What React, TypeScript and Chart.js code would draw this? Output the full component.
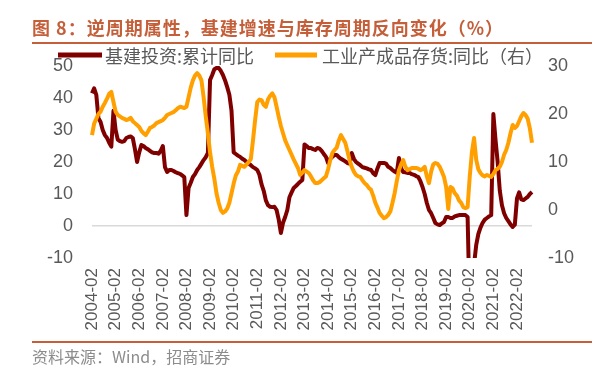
import React, { useEffect, useRef } from 'react';
import { Chart, registerables } from 'chart.js';

Chart.register(...registerables);

// ---- data -------------------------------------------------------------
const years = [2004, 2005, 2006, 2007, 2008, 2009, 2010, 2011, 2012, 2013, 2014, 2015, 2016, 2017, 2018, 2019, 2020, 2021, 2022];
const monthsOfYear = ['02', '03', '04', '05', '06', '07', '08', '09', '10', '11', '12'];
const lastMonth2022 = 9;

const categories: string[] = [];
years.forEach((y) => {
  monthsOfYear.forEach((m) => {
    if (y === 2022 && Number(m) > lastMonth2022) return;
    categories.push(`${y}-${m}`);
  });
});

// 基建投资:累计同比 (left axis)
const infraYoY = [
  41.5, 43, 41, 33.7, 32.5, 30, 28.4, 27.5, 26, 24.8, 36,
  30, 27, 26.5, 26.3, 26.5, 27.5, 27.8, 28, 27.5, 24, 20,
  23, 25.3, 25, 24.4, 24, 23.5, 23, 22.8, 22.8, 22.6, 23.5,
  25, 18.4, 16.9, 17.5, 17.5, 17.2, 16.8, 16.5, 16.3, 15.8, 15.3,
  3.4, 11.9, 13.5, 15.3, 16.2, 17.5, 18.4, 19.5, 20.6, 21.5, 22.8,
  45.6, 47.2, 49, 49.4, 49.4, 48.5, 47.2, 45.5, 43.4, 41, 36,
  23, 22.5, 22, 21.6, 21, 20.6, 20, 19.5, 19, 18.4, 18,
  17.5, 16, 13, 11, 8, 6.5, 6, 5.9, 6, 5, 2,
  -2.2, 1, 2.8, 5, 9, 10.5, 11.9, 12.5, 13.2, 13.8, 14.4,
  25.5, 25, 24.4, 24.4, 24, 23.75, 24.4, 24.2, 23.5, 22.5, 21.6,
  19.7, 21, 21.6, 22.2, 22.2, 21.5, 21, 20.6, 20.2, 19.7, 19.5,
  22.8, 21, 20, 19.5, 19, 18.4, 18.2, 18, 17.7, 17.5, 16.5,
  15.9, 18, 19.7, 19.7, 19.7, 19.5, 18.5, 18.1, 17.5, 17, 16.6,
  21.25, 18, 16.9, 16.8, 16.6, 16.6, 16.2, 16, 15.6, 15.3, 14,
  12.2, 10, 7.2, 5, 4, 2.5, 0.9, 0.5, 0.3, 0.8, 1.25,
  2.8, 2.8, 2.5, 2.5, 3, 3.2, 3.4, 3.4, 3.4, 3.4, 2.8,
  -26.9, -19.7, -12, -6, -2.5, -0.5, 1, 2, 2.5, 3, 3.4,
  35, 27, 20, 11, 6.5, 4, 2.5, 1.5, 0.5, -0.3, 0.4,
  8.6, 10.5, 8.3, 8.1, 8.6, 9.1, 10, 10.6,
];

// 工业产成品存货:同比 (right axis)
const inventoryYoY = [
  15.6, 18, 19, 20, 20.5, 21.5, 22.3, 23.2, 24.2, 24.6, 22.5,
  20.5, 19.8, 19.5, 19.2, 19, 18.75, 18.9, 19.2, 18.5, 18.1, 17.7,
  17.3, 16.5, 16, 15.6, 16.3, 17.1, 17.3, 17.6, 18.1, 18.3, 18.5,
  18.75, 19.2, 19.8, 20, 20.2, 20.4, 20.8, 21.2, 21.5, 21.4, 21.25,
  21.5, 23.5, 25.5, 27, 28, 28.5, 28, 27, 23.5, 19.5, 16,
  12, 9, 6.5, 3.5, 1.5, 0, -0.6, -0.3, 0.3, 1.5, 3.5,
  5.5, 7.2, 8, 9.4, 9.2, 9, 9.5, 10, 10.6, 14.5, 18.75,
  22.5, 23, 22.9, 21.9, 21.5, 23, 23.8, 24.3, 23.5, 21.5, 19.4,
  17.5, 16, 14.5, 13.5, 12.5, 11.5, 10.5, 9.6, 8.7, 7.3, 7.8,
  8.3, 8, 7.7, 7, 6.2, 5.6, 5.6, 5.8, 6.2, 6.6, 7,
  8.5, 10.4, 11.9, 12.5, 13, 14.5, 15.6, 14.8, 14, 12.3, 10.4,
  9, 8, 7.3, 7, 6.9, 6.2, 5.6, 5.2, 4.6, 4.2, 3,
  1.5, 0.5, -0.6, -1.2, -1.7, -1.5, -1, -0.3, 1.5, 3.5, 6,
  8.3, 9.5, 10.4, 9, 8.3, 8.5, 8.75, 8.75, 8.75, 8.6, 8.3,
  8.5, 9, 7, 5.6, 8, 9.5, 9.8, 9.6, 9, 8, 6.9,
  4.8, 0.2, 4.8, 4.5, 3.5, 3, 2, 1.5, 0.6, 0.4, 0.6,
  7, 12, 15, 10.5, 8.5, 7.7, 7.2, 7, 7.3, 7.1, 6.9,
  7.5, 8.3, 8.6, 9, 10, 11.5, 12.5, 14, 16, 17.7, 17.1,
  17.5, 18.5, 19.5, 20.2, 19.8, 19, 17, 14,
];

const leftAxisRange = [-10, 50];
const rightAxisRange = [-10, 30];
const axisStep = 10;

const seriesNames = ['基建投资:累计同比', '工业产成品存货:同比（右）'];
const titleText = '图 8：逆周期属性，基建增速与库存周期反向变化（%）';
const sourceText = '资料来源：Wind，招商证券';

// ---- styles -----------------------------------------------------------
const DARK_RED = '#800000';
const ORANGE = '#ffa000';
const ACCENT = '#c45f3a';
const AXIS_TEXT = '#595959';
const CJK = '"Noto Sans CJK SC", "Noto Sans", sans-serif';
const LATIN = '"Liberation Sans", Arial, sans-serif';

const decorPlugin = {
  id: 'decor',
  afterDraw(chart: any) {
    const ctx = chart.ctx as any;
    ctx.save();
    // title
    ctx.fillStyle = ACCENT;
    ctx.font = `bold 18px ${CJK}`;
    ctx.textBaseline = 'middle';
    ctx.textAlign = 'left';
    ctx.letterSpacing = '1px';
    ctx.fillText(titleText, 32, 28);
    ctx.letterSpacing = '0px';
    // rules
    ctx.strokeStyle = ACCENT;
    ctx.lineWidth = 2;
    ctx.beginPath();
    ctx.moveTo(32, 43);
    ctx.lineTo(592, 43);
    ctx.moveTo(32, 342);
    ctx.lineTo(592, 342);
    ctx.stroke();
    // legend
    const ds = chart.data.datasets;
    const legendPos = [
      { x0: 58, x1: 102, tx: 105 },
      { x0: 275, x1: 317, tx: 322 },
    ];
    ds.forEach((d: any, i: number) => {
      const p = legendPos[i];
      ctx.strokeStyle = d.borderColor;
      ctx.lineWidth = 5;
      ctx.beginPath();
      ctx.moveTo(p.x0, 55);
      ctx.lineTo(p.x1, 55);
      ctx.stroke();
      ctx.fillStyle = AXIS_TEXT;
      ctx.font = `400 18px ${CJK}`;
      ctx.textBaseline = 'middle';
      ctx.fillText(d.label, p.tx, 56);
    });
    // source
    ctx.fillStyle = '#8c8c8c';
    ctx.font = `400 16px ${CJK}`;
    ctx.fillText(sourceText, 32, 357);
    ctx.restore();
  },
};

export default function App() {
  const canvasRef = useRef<HTMLCanvasElement | null>(null);

  useEffect(() => {
    if (!canvasRef.current) return;
    const chart = new Chart(canvasRef.current, {
      type: 'line',
      data: {
        labels: categories,
        datasets: [
          {
            label: seriesNames[0],
            data: infraYoY,
            borderColor: DARK_RED,
            backgroundColor: DARK_RED,
            borderWidth: 4,
            pointRadius: 0,
            tension: 0,
            yAxisID: 'yLeft',
            order: 2,
            borderJoinStyle: 'round',
          },
          {
            label: seriesNames[1],
            data: inventoryYoY,
            borderColor: ORANGE,
            backgroundColor: ORANGE,
            borderWidth: 4,
            pointRadius: 0,
            tension: 0,
            yAxisID: 'yRight',
            order: 1,
            borderJoinStyle: 'round',
          },
        ],
      },
      options: {
        responsive: false,
        animation: false,
        events: [],
        layout: { padding: { top: 66, bottom: 37, left: 0, right: 0 } },
        plugins: {
          legend: { display: false },
          tooltip: { enabled: false },
          title: { display: false },
        },
        scales: {
          x: {
            type: 'category',
            offset: false,
            grid: { display: false, drawTicks: false },
            border: { display: false },
            ticks: {
              autoSkip: false,
              maxRotation: 90,
              minRotation: 90,
              padding: 10,
              color: AXIS_TEXT,
              font: { family: LATIN, size: 17 },
              callback: function (this: any, value: any) {
                const l = this.getLabelForValue(value) as string;
                return l.endsWith('-02') ? l : '';
              },
            },
            afterFit: (scale: any) => {
              scale.height = 80;
            },
          },
          yLeft: {
            type: 'linear',
            position: 'left',
            min: leftAxisRange[0],
            max: leftAxisRange[1],
            border: { display: false },
            grid: {
              drawTicks: false,
              lineWidth: 1.5,
              color: (c: any) => (c.tick && c.tick.value === 0 ? '#d9d9d9' : 'rgba(0,0,0,0)'),
            },
            ticks: {
              stepSize: axisStep,
              padding: 19,
              color: AXIS_TEXT,
              font: { family: LATIN, size: 18 },
            },
            afterFit: (scale: any) => {
              scale.width = 92;
            },
          },
          yRight: {
            type: 'linear',
            position: 'right',
            min: rightAxisRange[0],
            max: rightAxisRange[1],
            border: { display: false },
            grid: { display: false, drawTicks: false, drawOnChartArea: false },
            ticks: {
              stepSize: axisStep,
              padding: 16,
              color: AXIS_TEXT,
              font: { family: LATIN, size: 18 },
            },
            afterFit: (scale: any) => {
              scale.width = 68;
            },
          },
        },
      },
      plugins: [decorPlugin],
    });
    return () => chart.destroy();
  }, []);

  return (
    <div style={{ position: 'absolute', left: 0, top: 0, width: 600, height: 375, background: '#fff' }}>
      <canvas ref={canvasRef} width={600} height={375} />
    </div>
  );
}
